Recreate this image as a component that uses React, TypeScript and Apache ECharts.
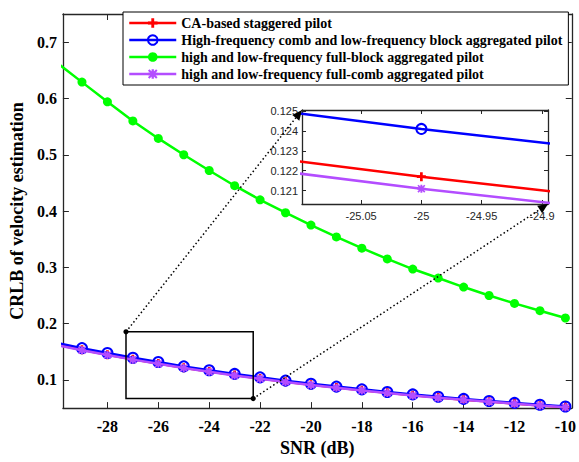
import React, { useEffect, useRef } from 'react';
import * as echarts from 'echarts';

// ---------------- data ----------------
const snr = [-30, -29, -28, -27, -26, -25, -24, -23, -22, -21, -20, -19, -18, -17, -16, -15, -14, -13, -12, -11, -10];

const caStaggered = [0.1628, 0.1535, 0.1449, 0.1368, 0.1293, 0.1217, 0.1149, 0.1086, 0.1026, 0.0969, 0.0915, 0.0865, 0.0817, 0.0772, 0.0729, 0.0688, 0.065, 0.0615, 0.0581, 0.0548, 0.0518];
const combBlock = [0.166, 0.1565, 0.1478, 0.1395, 0.1318, 0.1241, 0.1172, 0.1107, 0.1046, 0.0988, 0.0933, 0.0882, 0.0833, 0.0787, 0.0743, 0.0702, 0.0663, 0.0627, 0.0592, 0.0559, 0.0528];
const fullBlock = [0.664, 0.629, 0.594, 0.56, 0.529, 0.5, 0.472, 0.445, 0.42, 0.397, 0.375, 0.354, 0.334, 0.315, 0.297, 0.281, 0.265, 0.25, 0.236, 0.223, 0.21];
const fullComb = [0.162, 0.1527, 0.1442, 0.1361, 0.1286, 0.1211, 0.1144, 0.108, 0.1021, 0.0964, 0.091, 0.0861, 0.0813, 0.0768, 0.0725, 0.0685, 0.0647, 0.0612, 0.0578, 0.0545, 0.0515];

const seriesNames = [
  'CA-based staggered pilot',
  'High-frequency comb and low-frequency block aggregated pilot',
  'high and low-frequency full-block aggregated pilot',
  'high and low-frequency full-comb aggregated pilot',
];
const seriesColors = ['#ff0000', '#0000ff', '#00ff00', '#b34dff'];

const mainXRange = [-29.75, -9.75];
const mainYRange = [0.05, 0.75];
const insetXRange = [-25.099, -24.895];
const insetYRange = [0.12033, 0.12505];
const zoomBoxX = [-27.27, -22.27];
const zoomBoxY = [0.067, 0.1855];

const xAxisTitle = 'SNR (dB)';
const yAxisTitle = 'CRLB of velocity estimation';

// ---------------- styling ----------------
const SERIF = "'Liberation Serif', 'Times New Roman', serif";
const SANS = "'Liberation Sans', Arial, sans-serif";
const FRAME = '#262626';
const PLUS = 'path://M3.5,0H6.5V3.5H10V6.5H6.5V10H3.5V6.5H0V3.5H3.5Z';
const STAR = 'path://M0,1.5L1.5,0L10,8.5L8.5,10Z M8.5,0L10,1.5L1.5,10L0,8.5Z M3.8,0H6.2V10H3.8Z M0,3.8H10V6.2H0Z';

const allValues = [caStaggered, combBlock, fullBlock, fullComb];

function pairs(vals: number[]) {
  return snr.map((x, i) => [x, vals[i]]);
}

function makeSeries(i: number, xIdx: number, yIdx: number, inset: boolean) {
  const color = seriesColors[i];
  const base: any = {
    type: 'line',
    name: seriesNames[i],
    xAxisIndex: xIdx,
    yAxisIndex: yIdx,
    data: pairs(allValues[i]),
    clip: true,
    silent: true,
    showAllSymbol: true,
    lineStyle: { color, width: 2.5 },
    emphasis: { disabled: true },
    z: 2 + i,
  };
  if (i === 0) {
    base.symbol = PLUS;
    base.symbolSize = 9;
    base.itemStyle = { color };
  } else if (i === 1) {
    base.symbol = 'circle';
    base.symbolSize = 10;
    base.itemStyle = { color: 'rgba(0,0,0,0)', borderColor: color, borderWidth: 2 };
  } else if (i === 2) {
    base.symbol = 'circle';
    base.symbolSize = 9;
    base.itemStyle = { color };
  } else {
    base.symbol = STAR;
    base.symbolSize = 8;
    base.itemStyle = { color };
  }
  if (inset) base.z = 20 + i;
  return base;
}

function onStep(v: number, step: number) {
  const k = Math.round(v / step);
  return Math.abs(v / step - k) < 1e-6 ? k : null;
}

export default function App() {
  const ref = useRef<HTMLDivElement>(null);

  useEffect(() => {
    if (!ref.current) return;
    const chart = echarts.init(ref.current, null, { renderer: 'svg' });

    const mainTick = { show: true, inside: true, length: 6, lineStyle: { color: FRAME, width: 1 } };
    const insetTick = { show: true, inside: true, length: 4, lineStyle: { color: FRAME, width: 1 } };
    const mainLine = { show: true, onZero: false, lineStyle: { color: FRAME, width: 1.3 } };
    const insetLine = { show: true, onZero: false, lineStyle: { color: FRAME, width: 1.3 } };
    const mainLabelStyle = { fontFamily: SERIF, fontWeight: 'bold', fontSize: 16, color: '#000' };
    const insetLabelStyle = { fontFamily: SANS, fontSize: 11, color: '#262626' };

    const xMainLabel = (v: number) => {
      const k = onStep(v, 2);
      return k === null ? '' : String(k * 2);
    };
    const yMainLabel = (v: number) => {
      const k = onStep(v, 0.1);
      return k === null ? '' : (k / 10).toFixed(1);
    };
    const xInsetLabel = (v: number) => {
      const k = onStep(v, 0.05);
      return k === null ? '' : String(Number((k * 0.05).toFixed(2)));
    };
    const yInsetLabel = (v: number) => {
      const k = onStep(v, 0.001);
      return k === null ? '' : (k / 1000).toFixed(3);
    };

    const option: any = {
      animation: false,
      backgroundColor: '#fff',
      grid: [
        { left: 58, top: 14, width: 517, height: 404, containLabel: false },
        { left: 302, top: 110, width: 246, height: 94, containLabel: false, show: true, backgroundColor: '#fff', borderWidth: 0, z: 10 },
      ],
      legend: {
        show: true,
        data: seriesNames,
        orient: 'vertical',
        left: 123,
        top: 12,
        itemWidth: 47,
        itemHeight: 12,
        itemGap: 3,
        padding: [4, 6, 4, 5],
        backgroundColor: '#fff',
        borderColor: '#000',
        borderWidth: 1,
        selectedMode: false,
        lineStyle: { width: 2.5 },
        textStyle: { fontFamily: SERIF, fontWeight: 'bold', fontSize: 14, color: '#000' },
        z: 30,
      },
      xAxis: [
        {
          type: 'value', gridIndex: 0, position: 'bottom', min: mainXRange[0], max: mainXRange[1],
          minInterval: 2, maxInterval: 2, splitNumber: 10,
          axisLine: mainLine, axisTick: mainTick, splitLine: { show: false },
          axisLabel: { ...mainLabelStyle, margin: 10, formatter: xMainLabel, showMinLabel: false, showMaxLabel: false },
          name: xAxisTitle, nameLocation: 'middle', nameGap: 27,
          nameTextStyle: { fontFamily: SERIF, fontWeight: 'bold', fontSize: 18, color: '#000' },
        },
        {
          type: 'value', gridIndex: 0, position: 'top', min: mainXRange[0], max: mainXRange[1],
          minInterval: 2, maxInterval: 2, splitNumber: 10,
          axisLine: mainLine, axisTick: mainTick, splitLine: { show: false }, axisLabel: { show: false },
        },
        {
          type: 'value', gridIndex: 1, position: 'bottom', min: insetXRange[0], max: insetXRange[1],
          minInterval: 0.05, maxInterval: 0.05, splitNumber: 4,
          axisLine: insetLine, axisTick: insetTick, splitLine: { show: false },
          axisLabel: { ...insetLabelStyle, margin: 6, formatter: xInsetLabel, showMinLabel: false, showMaxLabel: false },
          z: 12,
        },
        {
          type: 'value', gridIndex: 1, position: 'top', min: insetXRange[0], max: insetXRange[1],
          minInterval: 0.05, maxInterval: 0.05, splitNumber: 4,
          axisLine: insetLine, axisTick: insetTick, splitLine: { show: false }, axisLabel: { show: false },
          z: 12,
        },
      ],
      yAxis: [
        {
          type: 'value', gridIndex: 0, position: 'left', min: mainYRange[0], max: mainYRange[1],
          minInterval: 0.1, maxInterval: 0.1, splitNumber: 7,
          axisLine: mainLine, axisTick: mainTick, splitLine: { show: false },
          axisLabel: { ...mainLabelStyle, margin: 6, formatter: yMainLabel, showMinLabel: false, showMaxLabel: false },
          name: yAxisTitle, nameLocation: 'middle', nameGap: 32, nameRotate: 90,
          nameTextStyle: { fontFamily: SERIF, fontWeight: 'bold', fontSize: 18, color: '#000' },
        },
        {
          type: 'value', gridIndex: 0, position: 'right', min: mainYRange[0], max: mainYRange[1],
          minInterval: 0.1, maxInterval: 0.1, splitNumber: 7,
          axisLine: mainLine, axisTick: mainTick, splitLine: { show: false }, axisLabel: { show: false },
        },
        {
          type: 'value', gridIndex: 1, position: 'left', min: insetYRange[0], max: insetYRange[1],
          minInterval: 0.001, maxInterval: 0.001, splitNumber: 5,
          axisLine: insetLine, axisTick: insetTick, splitLine: { show: false },
          axisLabel: { ...insetLabelStyle, margin: 4, formatter: yInsetLabel, showMinLabel: false, showMaxLabel: false },
          z: 12,
        },
        {
          type: 'value', gridIndex: 1, position: 'right', min: insetYRange[0], max: insetYRange[1],
          minInterval: 0.001, maxInterval: 0.001, splitNumber: 5,
          axisLine: insetLine, axisTick: insetTick, splitLine: { show: false }, axisLabel: { show: false },
          z: 12,
        },
      ],
      series: [
        makeSeries(0, 0, 0, false),
        makeSeries(1, 0, 0, false),
        makeSeries(2, 0, 0, false),
        makeSeries(3, 0, 0, false),
        makeSeries(0, 2, 2, true),
        makeSeries(1, 2, 2, true),
        makeSeries(3, 2, 2, true),
      ],
    };

    chart.setOption(option);

    const tl = chart.convertToPixel({ xAxisIndex: 0, yAxisIndex: 0 }, [zoomBoxX[0], zoomBoxY[1]]) as number[];
    const br = chart.convertToPixel({ xAxisIndex: 0, yAxisIndex: 0 }, [zoomBoxX[1], zoomBoxY[0]]) as number[];
    const iTL = chart.convertToPixel({ xAxisIndex: 2, yAxisIndex: 2 }, [insetXRange[0], insetYRange[1]]) as number[];
    const iBR = chart.convertToPixel({ xAxisIndex: 2, yAxisIndex: 2 }, [insetXRange[1], insetYRange[0]]) as number[];

    const connector = (from: number[], to: number[]) => {
      const dx = to[0] - from[0];
      const dy = to[1] - from[1];
      const L = Math.hypot(dx, dy);
      const ux = dx / L;
      const uy = dy / L;
      const len = 10;
      const half = 4.5;
      const bx = to[0] - ux * len;
      const by = to[1] - uy * len;
      return [
        {
          type: 'line', z: 100, silent: true,
          shape: { x1: from[0], y1: from[1], x2: bx, y2: by },
          style: { stroke: '#000', lineWidth: 1.5, lineDash: [1.5, 2.5] },
        },
        {
          type: 'circle', z: 101, silent: true,
          shape: { cx: from[0], cy: from[1], r: 2.6 },
          style: { fill: '#000' },
        },
        {
          type: 'polygon', z: 101, silent: true,
          shape: { points: [[to[0], to[1]], [bx - uy * half, by + ux * half], [bx + uy * half, by - ux * half]] },
          style: { fill: '#000' },
        },
      ];
    };

    chart.setOption({
      graphic: [
        {
          type: 'rect', z: 100, silent: true,
          shape: { x: tl[0], y: tl[1], width: br[0] - tl[0], height: br[1] - tl[1] },
          style: { fill: 'none', stroke: '#000', lineWidth: 1.5 },
        },
        ...connector(tl, iTL),
        ...connector(br, iBR),
      ],
    });

    return () => chart.dispose();
  }, []);

  return <div ref={ref} style={{ position: 'fixed', left: 0, top: 0, width: 579, height: 462 }} />;
}
